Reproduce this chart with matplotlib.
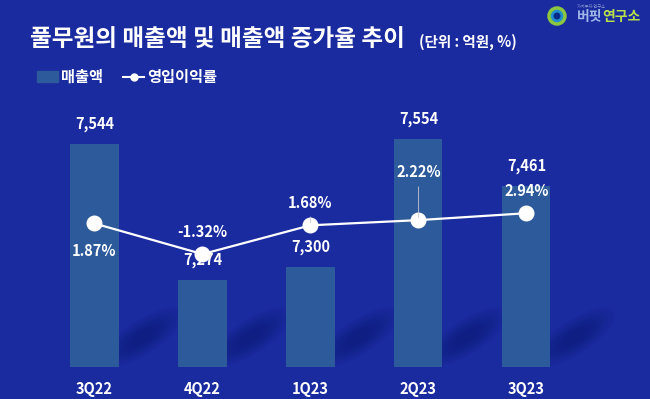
import matplotlib

matplotlib.use("Agg")
import matplotlib.pyplot as plt
from matplotlib.lines import Line2D
from matplotlib.patches import Patch, Circle, Ellipse
from matplotlib.transforms import IdentityTransform

plt.rcParams["font.family"] = ["Noto Sans CJK KR", "DejaVu Sans"]

quarters = ["3Q22", "4Q22", "1Q23", "2Q23", "3Q23"]
sales = [7544, 7274, 7300, 7554, 7461]
margin = [1.87, -1.32, 1.68, 2.22, 2.94]

BG = "#1a2ba0"
BAR = "#2c5a9a"
WHITE = "white"
BAR_W = 0.445

fig = plt.figure(figsize=(6.5, 3.99), dpi=100, facecolor=BG)
ax = fig.add_axes([0, 0.080, 1, 0.644])
ax.set_facecolor("none")
x = list(range(len(quarters)))
ax.set_xlim(-0.875, 5.144)
ax.set_ylim(7101, 7611)

# soft diagonal shadows behind the bars (pixel space)
sh = fig.add_axes([0, 0, 1, 1], zorder=-1)
sh.set_facecolor(BG)
sh.axis("off")
for xi in x:
    px, py = ax.transData.transform((xi + BAR_W / 2, 7101))
    for k in range(12):
        f = 1 - k * 0.065
        sh.add_patch(Ellipse((px + 24, py + 30), 95 * f, 34 * f, angle=33,
                             transform=IdentityTransform(), color="#0d1870",
                             alpha=0.06, lw=0))

ax.bar(x, sales, width=BAR_W, color=BAR, zorder=2)
for xi, v in zip(x, sales):
    ax.annotate(f"{v:,}", (xi, v), xytext=(0, 14), textcoords="offset points",
                ha="center", va="center", color=WHITE, fontsize=10.5, fontweight="bold")

ax2 = ax.twinx()
ax2.set_ylim(-13.09, 13.68)
ax2.plot(x, margin, color=WHITE, lw=1.6, marker="o", ms=10.5,
         mfc=WHITE, mec=WHITE, zorder=3)
offs = [-20, 16, 16, 35, 16]
for xi, v, dy in zip(x, margin, offs):
    ax2.annotate(f"{v:.2f}%", (xi, v), xytext=(0, dy), textcoords="offset points",
                 ha="center", va="center", color=WHITE, fontsize=10.5, fontweight="bold")
# leader lines
ax2.annotate("", (x[3], margin[3]), xytext=(0, 26), textcoords="offset points",
             arrowprops=dict(arrowstyle="-", color="#c8c8d8", lw=0.6))
ax2.annotate("", (x[2], margin[2]), xytext=(0, 8), textcoords="offset points",
             arrowprops=dict(arrowstyle="-", color="#c8c8d8", lw=0.6))

for a in (ax, ax2):
    for s in a.spines.values():
        s.set_visible(False)
    a.set_yticks([])
ax.set_xticks(x)
ax.set_xticklabels(quarters, color=WHITE, fontsize=10.5, fontweight="bold")
ax.tick_params(axis="x", length=0, pad=10)

fig.text(0.046, 0.902, "풀무원의 매출액 및 매출액 증가율 추이", color=WHITE,
         fontsize=17, fontweight="bold", va="center")
fig.text(0.644, 0.895, "(단위 : 억원, %)", color=WHITE, fontsize=10.5,
         fontweight="bold", va="center")

handles = [Patch(color=BAR),
           Line2D([0], [0], color=WHITE, lw=1.5, marker="o", ms=5, mfc=WHITE)]
fig.legend(handles, ["매출액", "영입이익률"], loc="center left",
           bbox_to_anchor=(0.035, 0.807), ncol=2, frameon=False,
           prop=dict(weight="bold", size=11), labelcolor=WHITE,
           handlelength=1.4, handletextpad=0.2, columnspacing=1.3)

# logo
sh.add_patch(Circle((557, 383), 8, transform=IdentityTransform(),
                    facecolor="#1f8fd0", edgecolor="#8cc63f", lw=2.5))
sh.add_patch(Circle((557, 383), 3.5, transform=IdentityTransform(),
                    facecolor="#0a2a8a", lw=0))
fig.text(0.888, 0.957, "버핏", color="#9fb8e8", fontsize=10, fontweight="bold", va="center")
fig.text(0.926, 0.957, "연구소", color="#b8e04a", fontsize=10, fontweight="bold", va="center")
fig.text(0.888, 0.983, "가치투자 연구소", color="#8a9ad0", fontsize=3, va="center")

fig.savefig("out.png", dpi=100, facecolor=BG)
